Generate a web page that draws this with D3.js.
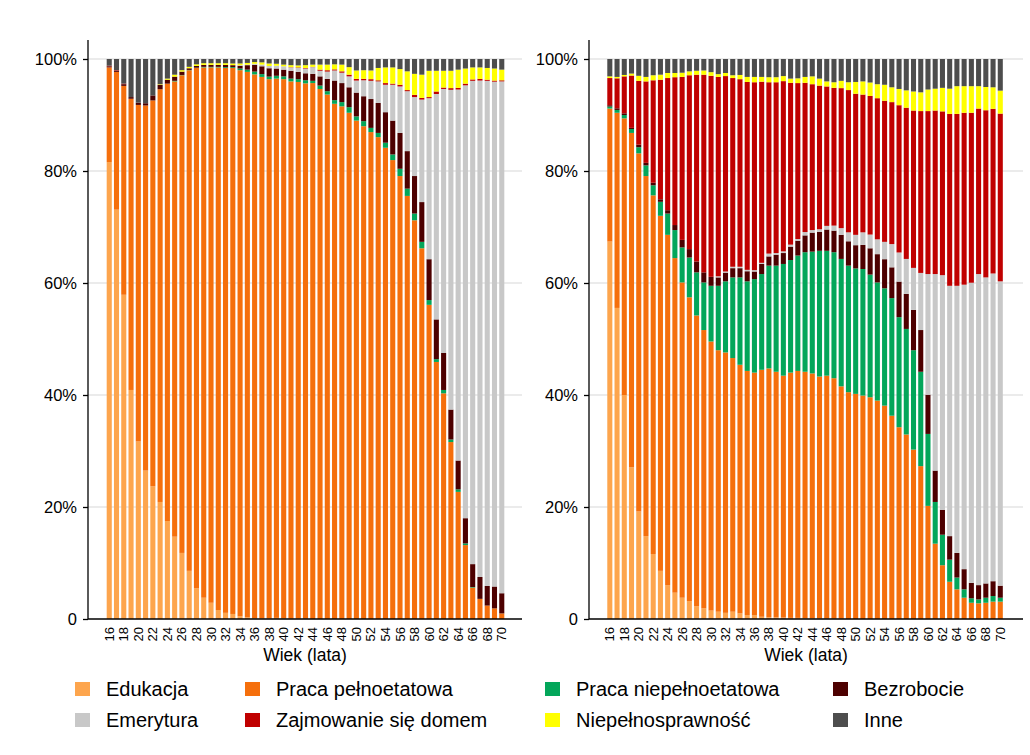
<!DOCTYPE html>
<html>
<head>
<meta charset="utf-8">
<script src="https://cdn.jsdelivr.net/npm/d3@7"></script>
<style>
    body { margin: 0; background: #fff; }
    svg { font-family: "Liberation Sans", Arial, sans-serif; }
</style>
</head>
<body>
<svg width="1030" height="755"></svg>
<script>
// wiek 16..70
const ages = d3.range(16, 71);

const categories = ["Edukacja", "Praca pełnoetatowa", "Praca niepełnoetatowa", "Bezrobocie",
                    "Emerytura", "Zajmowanie się domem", "Niepełnosprawność", "Inne"];

// lewy panel (%)
const leftEdu = [81.6,73.1,57.9,40.9,31.7,26.5,23.7,20.9,17.5,14.7,
    11.8,8.6,5.5,3.8,2.9,1.6,1.1,0.9,0.5,0.3,
    0.15,0.1,0.1,0.2,0.1,0.05,0.05,0.05,0,0,
    0,0,0,0,0,0,0,0,0,0,
    0,0,0,0,0,0,0,0,0,0,
    0,0,0,0,0];
const leftFull = [16.9,24.6,37.3,52.0,60.1,65.2,68.9,73.7,78.1,81.3,
    85.3,89.4,92.9,94.7,95.6,96.9,97.3,97.5,97.5,97.4,
    97.1,96.7,96.3,96.3,96.3,95.95,95.85,95.6,95.7,94.65,
    93.65,92.0,91.55,90.4,89.0,88.0,86.95,86.05,84.15,81.95,
    79.1,75.55,71.2,66.2,56.1,45.9,40.3,31.6,22.7,13.2,
    5.6,3.6,2.4,1.9,1.0];
const leftPart = [0,0,0,0,0,0,0,0,0,0.1,
    0.05,0.05,0.05,0.1,0.1,0.1,0.15,0.15,0.3,0.4,
    0.5,0.5,0.45,0.5,0.5,0.5,0.5,0.55,0.4,0.6,
    0.6,0.65,0.75,1.0,0.75,0.9,0.75,0.75,0.9,1.0,
    1.3,1.3,1.2,1.15,0.85,0.5,0.6,0.45,0.45,0.3,
    0.1,0,0,0,0];
const leftUnemp = [0.2,0.2,0.3,0.3,0.4,0.4,0.9,0.8,0.7,0.75,
    0.6,0.3,0.3,0.35,0.35,0.35,0.4,0.35,0.5,0.8,
    1.2,1.4,1.5,1.3,1.2,1.4,1.3,1.25,1.25,1.65,
    2.2,3.5,3.4,3.55,4.25,4.45,5.15,5.35,5.45,6.05,
    6.4,6.7,6.7,7.1,7.3,7.1,6.6,5.35,5.15,4.5,
    4.1,3.9,3.5,3.9,3.6];
const leftRetire = [0,0,0,0,0,0,0,0,0,0,
    0,0,0,0,0,0,0,0,0.1,0.1,
    0.2,0.3,0.4,0.5,0.6,0.6,0.7,0.85,1.2,1.0,
    1.3,1.8,1.85,1.95,2.15,2.85,3.25,3.85,4.9,6.4,
    8.3,10.7,14.1,18.3,28.75,40.25,47.15,57.1,66.25,77.3,
    86.3,88.65,90.2,90.15,91.4];
const leftHome = [0.1,0.1,0.1,0,0,0,0,0,0,0,
    0,0,0,0,0,0,0,0,0,0,
    0,0,0,0,0,0.05,0.1,0.1,0.05,0.2,
    0.25,0.2,0.25,0.3,0.3,0.25,0.3,0.2,0.3,0.2,
    0.3,0.2,0.4,0.3,0.2,0.45,0.25,0.3,0.3,0.3,
    0.25,0.3,0.2,0.2,0.2];
const leftDisab = [0,0,0,0,0,0,0,0.1,0.2,0.35,
    0.25,0.25,0.3,0.3,0.3,0.3,0.3,0.3,0.3,0.3,
    0.3,0.4,0.45,0.35,0.3,0.35,0.35,0.5,0.4,0.9,
    1.0,0.9,1.2,1.35,1.5,1.55,1.55,2.2,2.8,2.9,
    2.8,3.35,3.75,4.15,4.7,3.7,3.0,3.1,3.25,2.7,
    2.15,2.05,2.1,2.15,1.9];
const leftOther = [1.2,2.0,4.4,6.8,7.8,7.9,6.5,4.5,3.5,2.8,
    2.0,1.4,0.95,0.75,0.75,0.75,0.75,0.8,0.8,0.7,
    0.55,0.6,0.8,0.85,1.0,1.1,1.15,1.1,1.0,1.0,
    1.0,0.95,1.0,1.45,2.05,2.0,2.05,1.6,1.5,1.5,
    1.8,2.2,2.65,2.8,2.1,2.1,2.1,2.1,1.9,1.7,
    1.5,1.5,1.6,1.7,1.9];

// prawy panel (%)
const rightEdu = [67.4,55.55,40.0,27.1,19.2,14.8,11.6,8.6,6.05,4.7,
    3.8,3.2,2.3,1.9,1.5,1.3,1.1,1.3,1.0,0.7,
    0.7,0.4,0.3,0.3,0.25,0.2,0.2,0.15,0.1,0.1,
    0.05,0.05,0.05,0,0,0,0,0,0,0,
    0,0,0,0,0,0,0,0,0,0,
    0,0,0,0,0];
const rightFull = [23.75,34.85,49.4,59.7,63.95,64.3,64.05,63.4,62.55,59.75,
    56.3,54.25,51.9,49.7,48.05,46.7,46.5,45.3,44.4,43.6,
    43.3,44.1,44.45,43.85,43.2,43.8,44.1,44.0,43.75,43.2,
    43.4,42.95,41.5,40.5,40.2,39.9,39.6,39.0,38.1,36.3,
    34.25,32.95,30.25,27.3,20.2,13.45,9.6,6.65,5.3,3.8,
    2.9,2.8,2.9,3.1,3.1];
const rightPart = [0.35,0.5,0.6,0.7,1.1,1.9,1.8,2.5,3.8,5.0,
    6.25,7.1,7.7,8.5,9.95,11.5,12.7,14.4,15.6,16.0,
    16.7,17.1,18.35,18.95,19.95,20.1,20.6,21.35,21.75,22.45,
    22.3,22.5,22.75,22.6,22.4,22.6,21.9,21.1,20.95,21.0,
    19.65,18.85,17.75,16.85,12.85,7.45,5.45,3.95,2.1,1.5,
    0.8,0.7,0.9,1.0,0.7];
const rightUnemp = [0.25,0.3,0.3,0.2,0.45,0.45,0.45,0.45,0.6,0.9,
    1.35,1.5,1.95,1.8,1.6,1.5,1.55,1.65,1.65,1.8,
    1.35,1.8,1.65,1.95,1.95,2.4,2.65,3.0,3.4,3.4,
    3.8,3.85,4.3,4.35,4.15,4.3,4.7,5.05,5.2,5.5,
    6.35,6.25,7.2,7.45,7.0,5.6,4.45,4.2,4.4,3.6,
    2.75,2.55,2.55,2.65,2.15];
const rightRetire = [0,0,0,0,0,0,0,0,0,0,
    0,0,0,0,0,0.2,0.2,0.25,0.25,0.25,
    0.25,0.2,0.5,0.3,0.3,0.35,0.3,0.6,0.45,0.45,
    0.65,0.9,1.2,1.6,1.85,2.25,2.45,2.65,3.1,4.15,
    5.2,6.25,7.5,10.2,21.55,35.1,41.9,44.7,47.7,50.8,
    53.6,55.55,54.65,54.95,54.35];
const rightHome = [4.85,5.35,6.6,9.35,11.4,14.55,18.3,21.35,23.6,26.4,
    29.1,31.05,33.35,35.3,35.9,35.6,34.9,33.7,33.5,33.55,
    33.55,32.35,30.6,30.5,30.4,28.9,27.85,26.65,26.05,25.65,
    24.9,24.6,25.0,25.4,25.2,24.6,24.75,25.2,25.2,25.35,
    26.3,27.0,28.1,28.9,29.1,29.2,29.25,30.7,30.7,30.7,
    30.35,29.55,29.85,29.4,29.95];
const rightDisab = [0.3,0.25,0.25,0.35,0.9,0.8,0.9,0.9,0.9,0.75,
    0.75,0.7,0.7,0.75,0.65,0.5,0.55,0.5,0.75,0.9,
    0.95,0.85,0.9,0.9,0.9,0.75,0.85,1.05,1.4,1.25,
    0.9,1.0,1.3,1.4,2.1,2.35,2.4,2.5,2.85,2.65,
    2.9,3.1,3.4,3.35,3.85,3.9,4.2,4.5,4.95,4.75,
    4.75,4.0,4.15,3.85,4.1];
const rightOther = [3.1,3.2,2.85,2.6,3.0,3.2,2.9,2.8,2.5,2.5,
    2.45,2.2,2.1,2.05,2.35,2.7,2.5,2.9,2.85,3.2,
    3.2,3.2,3.25,3.25,3.05,3.5,3.45,3.2,3.1,3.5,
    4.0,4.15,3.9,4.15,4.1,4.0,4.2,4.5,4.6,5.05,
    5.35,5.6,5.8,5.95,5.45,5.3,5.15,5.3,4.85,4.85,
    4.85,4.85,5.0,5.05,5.65];

const colors = ["#fda54d", "#f56f0c", "#03a65a", "#4d0000",
                "#c8c8c8", "#c00000", "#ffff00", "#4d4d4d"];

const svg = d3.select("svg");
const y = d3.scaleLinear().domain([0, 1]).range([619, 59]);

const panels = [
    { x0: 88,  x1: 522,  band: [105.6, 505.4],
      series: [leftEdu, leftFull, leftPart, leftUnemp, leftRetire, leftHome, leftDisab, leftOther] },
    { x0: 589, x1: 1023, band: [606.2, 1003.9],
      series: [rightEdu, rightFull, rightPart, rightUnemp, rightRetire, rightHome, rightDisab, rightOther] }
];

panels.forEach(p => {
    const table = ages.map((a, i) => {
        const row = { age: a };
        categories.forEach((c, k) => row[c] = p.series[k][i]);
        return row;
    });

    const stacked = d3.stack()
        .keys(categories)
        .offset(d3.stackOffsetExpand)(table);

    const x = d3.scaleBand()
        .domain(ages)
        .range(p.band)
        .paddingInner(0.3)
        .paddingOuter(0.15);

    const g = svg.append("g");

    // siatka
    g.selectAll("line.grid")
        .data([0.2, 0.4, 0.6, 0.8, 1])
        .enter()
        .append("line")
        .attr("class", "grid")
        .attr("x1", p.x0)
        .attr("x2", p.x1)
        .attr("y1", d => y(d))
        .attr("y2", d => y(d))
        .attr("stroke", "#e4e4e4")
        .attr("stroke-width", 1.5);

    g.selectAll("g.layer")
        .data(stacked)
        .enter()
        .append("g")
        .attr("class", "layer")
        .attr("fill", (d, i) => colors[i])
        .selectAll("rect")
        .data(d => d)
        .enter()
        .append("rect")
        .attr("x", d => x(d.data.age))
        .attr("y", d => y(d[1]))
        .attr("width", x.bandwidth())
        .attr("height", d => Math.max(0, y(d[0]) - y(d[1])));

    // oś Y
    const yAxis = g.append("g")
        .attr("transform", `translate(${p.x0},0)`)
        .call(d3.axisLeft(y)
            .tickValues([0, 0.2, 0.4, 0.6, 0.8, 1])
            .tickFormat(d => d === 0 ? "0" : Math.round(d * 100) + "%")
            .tickSize(5)
            .tickPadding(6));
    yAxis.select(".domain").remove();
    yAxis.selectAll("line").attr("stroke", "#000").attr("stroke-width", 1.3);
    yAxis.selectAll("text").attr("font-size", "16.5px").attr("fill", "#000");

    g.append("line")
        .attr("x1", p.x0).attr("x2", p.x0)
        .attr("y1", 40).attr("y2", 619)
        .attr("stroke", "#000")
        .attr("stroke-width", 1.3);

    // oś X
    const xAxis = g.append("g")
        .attr("transform", `translate(0,619)`)
        .call(d3.axisBottom(x)
            .tickValues(ages.filter(a => a % 2 === 0))
            .tickSize(0));
    xAxis.select(".domain").remove();
    xAxis.selectAll("text")
        .attr("transform", "rotate(-90)")
        .attr("x", -8)
        .attr("y", 0)
        .attr("dy", "0.35em")
        .attr("text-anchor", "end")
        .attr("font-size", "13px")
        .attr("fill", "#000");

    g.append("line")
        .attr("x1", p.x0).attr("x2", p.x1)
        .attr("y1", 619).attr("y2", 619)
        .attr("stroke", "#000")
        .attr("stroke-width", 1.3);

    g.append("text")
        .attr("x", (p.x0 + p.x1) / 2)
        .attr("y", 661)
        .attr("text-anchor", "middle")
        .attr("font-size", "17.5px")
        .attr("fill", "#000")
        .text("Wiek (lata)");
});

// legenda
const legendX = [75, 245, 545, 833];
const legendY = [682, 713];

const legend = svg.append("g")
    .selectAll("g")
    .data(categories)
    .enter()
    .append("g")
    .attr("transform", (d, i) => `translate(${legendX[i % 4]},${legendY[Math.floor(i / 4)]})`);

legend.append("rect")
    .attr("width", 15)
    .attr("height", 14)
    .attr("fill", (d, i) => colors[i]);

legend.append("text")
    .attr("x", 31)
    .attr("y", 7)
    .attr("dy", "0.35em")
    .attr("font-size", "20px")
    .attr("fill", "#000")
    .text(d => d);
</script>
</body>
</html>
